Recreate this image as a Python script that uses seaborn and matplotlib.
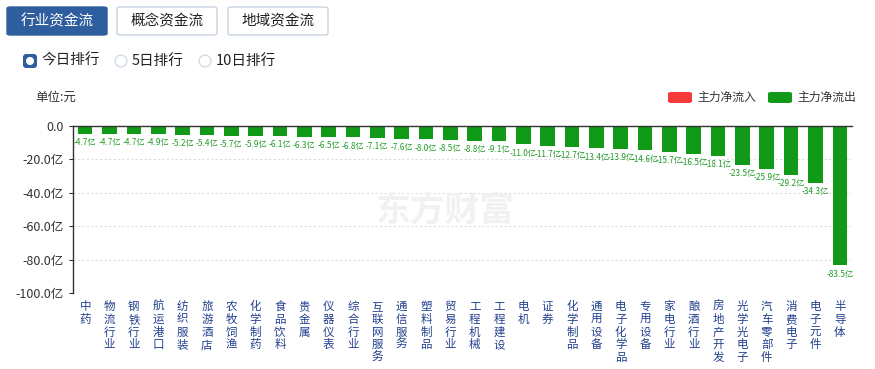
import matplotlib
matplotlib.use("Agg")
import matplotlib.pyplot as plt
import seaborn as sns
import pandas as pd
from matplotlib.patches import FancyBboxPatch, Circle

sns.set_theme(style="white")
plt.rcParams['font.family'] = ['Noto Sans CJK SC', 'DejaVu Sans']
plt.rcParams['axes.unicode_minus'] = False

categories = ["中药", "物流行业", "钢铁行业", "航运港口", "纺织服装", "旅游酒店", "农牧饲渔",
              "化学制药", "食品饮料", "贵金属", "仪器仪表", "综合行业", "互联网服务", "通信服务",
              "塑料制品", "贸易行业", "工程机械", "工程建设", "电机", "证券", "化学制品", "通用设备",
              "电子化学品", "专用设备", "家电行业", "酿酒行业", "房地产开发", "光学光电子",
              "汽车零部件", "消费电子", "电子元件", "半导体"]
values = [-4.7, -4.7, -4.7, -4.9, -5.2, -5.4, -5.7, -5.9, -6.1, -6.3, -6.5, -6.8, -7.1, -7.6,
          -8.0, -8.5, -8.8, -9.1, -11.0, -11.7, -12.7, -13.4, -13.9, -14.6, -15.7, -16.5, -18.1,
          -23.5, -25.9, -29.2, -34.3, -83.5]
y_ticks = [0, -20, -40, -60, -80, -100]
y_tick_labels = ["0.0", "-20.0亿", "-40.0亿", "-60.0亿", "-80.0亿", "-100.0亿"]
tabs = ["行业资金流", "概念资金流", "地域资金流"]
radios = ["今日排行", "5日排行", "10日排行"]
legend_labels = ["主力净流入", "主力净流出"]

W, H = 875, 369
GREEN = "#119a17"
RED = "#f53c3c"
fig = plt.figure(figsize=(W / 100, H / 100), dpi=100)

def fx(x):
    return x / W

def fy(y):
    return 1 - y / H

# plot area
left, right, top, bottom = 73, 852, 126, 293
ax = fig.add_axes([fx(left), fy(bottom), fx(right - left), (bottom - top) / H])
df = pd.DataFrame({"cat": categories, "val": values})
sns.barplot(data=df, x="cat", y="val", color=GREEN, saturation=1, width=0.6, ax=ax)
for p in ax.patches:
    p.set_edgecolor("none")
ax.set_ylim(-100, 0)
ax.set_xlim(-0.5, len(categories) - 0.5)
ax.set_yticks(y_ticks)
ax.set_yticklabels(y_tick_labels, fontsize=9, color="#333333")
ax.set_xticks(range(len(categories)))
ax.set_xticklabels(["\n".join(c) for c in categories], fontsize=8.3, color="#23418f",
                   linespacing=0.98, va="top")
ax.tick_params(axis="x", length=0, pad=5)
ax.tick_params(axis="y", length=3, pad=4, left=True, color="#333333", width=0.8)
ax.set_xlabel("")
ax.set_ylabel("")
for s in ["right", "bottom"]:
    ax.spines[s].set_visible(False)
ax.spines["top"].set_visible(True)
ax.spines["top"].set_color("#333333")
ax.spines["top"].set_linewidth(1.0)
ax.spines["left"].set_color("#333333")
ax.spines["left"].set_linewidth(1.0)
for yv in y_ticks[1:]:
    ax.axhline(yv, color="#dddddd", lw=0.8, ls=(0, (2, 2)), zorder=0)

for i, v in enumerate(values):
    ax.annotate(f"{v:.1f}亿", (i, v), xytext=(0, -3), textcoords="offset points",
                ha="center", va="top", fontsize=5.9, color="#1f9a25")

# watermark
fig.text(fx(445), fy(210), "东方财富", fontsize=25, fontweight="bold", color="#f1f1f1",
         ha="center", va="center", zorder=0, style="italic")

# tabs
tab_x = [7, 117, 228]
for i, (x0, t) in enumerate(zip(tab_x, tabs)):
    filled = i == 0
    fig.patches.append(FancyBboxPatch((fx(x0), fy(35)), fx(100), 28 / H,
                                      boxstyle="round,pad=0,rounding_size=0.004",
                                      transform=fig.transFigure,
                                      facecolor="#2f5e9e" if filled else "white",
                                      edgecolor="#2f5e9e" if filled else "#c8d4e2", lw=1))
    fig.text(fx(x0 + 50), fy(21), t, fontsize=10.5, ha="center", va="center",
             color="white" if filled else "#222222")

# radios
rad_x = [30, 121, 205]
for i, (x0, t) in enumerate(zip(rad_x, radios)):
    ax_r = fig.add_axes([fx(x0 - 7), fy(68), fx(14), 14 / H])
    ax_r.set_xlim(-1, 1)
    ax_r.set_ylim(-1, 1)
    ax_r.set_aspect("equal")
    ax_r.axis("off")
    if i == 0:
        ax_r.add_patch(Circle((0, 0), 0.9, facecolor="white", edgecolor="#2f5e9e", lw=3.2))
    else:
        ax_r.add_patch(Circle((0, 0), 0.85, facecolor="white", edgecolor="#c8d4e2", lw=0.8))
    fig.text(fx(x0 + 11), fy(61), t, fontsize=10.5, ha="left", va="center", color="#222222")

fig.text(fx(35), fy(97), "单位:元", fontsize=9, ha="left", va="center", color="#333333")

# legend
for x0, c, t in [(668, RED, legend_labels[0]), (768, GREEN, legend_labels[1])]:
    fig.patches.append(FancyBboxPatch((fx(x0), fy(103)), fx(24), 11 / H,
                                      boxstyle="round,pad=0,rounding_size=0.004",
                                      transform=fig.transFigure, facecolor=c, edgecolor="none"))
    fig.text(fx(x0 + 29), fy(97.5), t, fontsize=8.5, ha="left", va="center", color="#333333")

fig.savefig("out.png", dpi=100, facecolor="white")
